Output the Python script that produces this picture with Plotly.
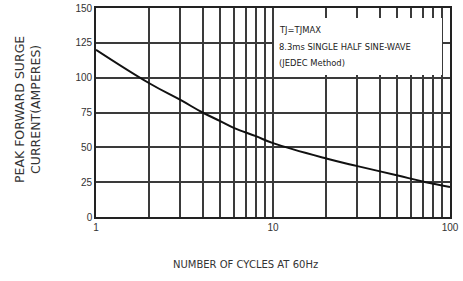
import plotly.graph_objects as go

cycles = [1, 2, 3, 4, 5, 6, 8, 10, 20, 30, 50, 70, 100]
current = [120, 96, 84, 75, 69, 64, 58, 53, 42, 36.5, 30, 25.5, 21.5]

x_grid = [1, 2, 3, 4, 5, 6, 7, 8, 9, 10, 20, 30, 40, 50, 60, 70, 80, 90, 100]
x_labels = ["1"] + [""] * 8 + ["10"] + [""] * 8 + ["100"]
y_ticks = [0, 25, 50, 75, 100, 125, 150]
note_lines = ["TJ=TJMAX", "8.3ms SINGLE HALF SINE-WAVE", "(JEDEC Method)"]

# plot area spans page x 96..450, y 8..217
PL, PR, PT, PB = 96, 450, 8, 217
def px(xp):
    return (xp - PL) / (PR - PL)
def py(yp):
    return (PB - yp) / (PB - PT)

fig = go.Figure()
fig.add_trace(go.Scatter(x=cycles, y=current, mode="lines",
                         line=dict(color="#111", width=2, shape="spline", smoothing=1.2),
                         showlegend=False, hoverinfo="skip"))

fig.add_shape(type="rect", xref="paper", yref="paper", x0=px(274), x1=px(442), y0=py(75), y1=py(18),
              fillcolor="white", line=dict(width=0), layer="above")
for txt, yp in zip(note_lines, [30, 47, 63]):
    fig.add_annotation(xref="paper", yref="paper", x=px(277), y=py(yp), xanchor="left", yanchor="middle",
                       showarrow=False, text=txt,
                       font=dict(family="DejaVu Sans", size=8.4, color="#222"))

fig.add_annotation(xref="paper", yref="paper", x=px(245), y=py(264),
                   xanchor="center", yanchor="middle", showarrow=False,
                   text="NUMBER OF CYCLES AT 60Hz",
                   font=dict(family="DejaVu Sans", size=10, color="#333"))
fig.add_annotation(xref="paper", yref="paper", x=px(27), y=py(110),
                   xanchor="center", yanchor="middle", showarrow=False, textangle=-90,
                   text="PEAK FORWARD SURGE<br>CURRENT(AMPERES)",
                   font=dict(family="DejaVu Sans", size=12.5, color="#333"))

fig.update_layout(
    width=463, height=281,
    margin=dict(l=PL, r=463 - PR, t=PT, b=281 - PB),
    plot_bgcolor="white", paper_bgcolor="white",
    font=dict(family="Liberation Sans, Arial", color="#333", size=10),
    xaxis=dict(type="log", range=[0, 2], tickvals=x_grid, ticktext=x_labels, automargin=False,
               showgrid=True, gridcolor="#3a3a3a", gridwidth=1.6, ticks="", ticklen=0,
               showline=True, linecolor="#222", linewidth=1.6, mirror=True, zeroline=False,
               tickfont=dict(size=10, color="#333")),
    yaxis=dict(range=[0, 150], tickvals=y_ticks, showgrid=True, gridcolor="#3a3a3a", gridwidth=1.6,
               automargin=False,
               showline=True, linecolor="#222", linewidth=1.6, mirror=True, zeroline=False,
               ticks="", tickfont=dict(size=10, color="#333")),
)
fig.write_html("out.html", config={"displayModeBar": False},
               post_script="document.body.style.margin='0';")
